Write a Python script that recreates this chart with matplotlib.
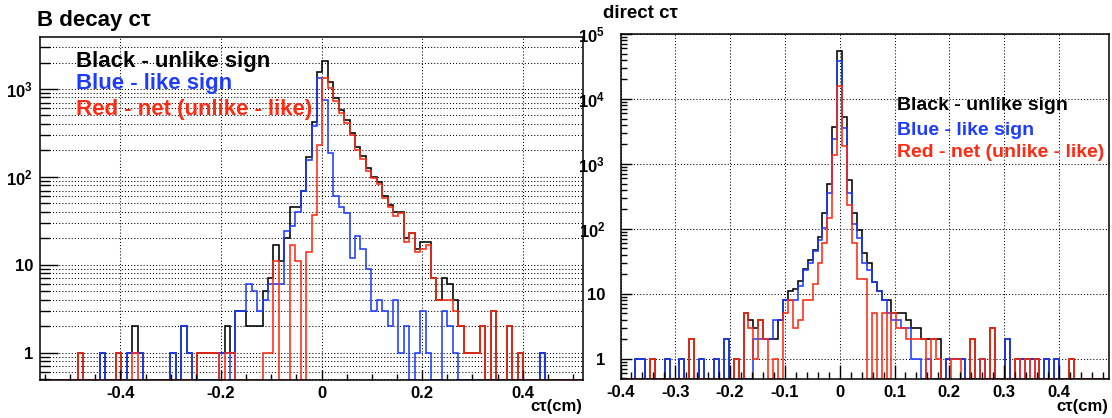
import numpy as np
import matplotlib
matplotlib.use("Agg")
import matplotlib.pyplot as plt
from matplotlib.ticker import FixedLocator, NullFormatter, MultipleLocator

plt.rcParams['font.family'] = ['Liberation Sans', 'DejaVu Sans']
plt.rcParams['font.weight'] = 'bold'
plt.rcParams['mathtext.fontset'] = 'custom'
plt.rcParams['mathtext.rm'] = 'Liberation Sans:bold'
plt.rcParams['mathtext.bf'] = 'Liberation Sans:bold'
plt.rcParams['mathtext.it'] = 'Liberation Sans:bold'

# ---------------- data: B decay c tau (100 bins, -0.56 .. 0.52) ----------------
left_range = (-0.56, 0.52)
left_black = [0, 0, 0, 0, 0, 0, 0, 1, 0, 0,
              0, 1, 0, 0, 1, 0, 1, 2, 1, 0,
              0, 0, 0, 0, 1, 0, 2, 1, 0, 1,
              1, 1, 1, 1, 2, 1, 3, 3, 2, 2,
              2, 5, 7, 17, 11, 20, 45, 46, 70, 170,
              420, 1550, 2100, 1210, 790, 580, 445, 315, 221, 173,
              125, 100, 88, 60, 48, 40, 40, 20, 23, 15,
              18, 18, 7, 4, 7, 6, 4, 2, 1, 1,
              1, 2, 0, 3, 0, 0, 2, 0, 1, 0,
              0, 0, 1, 0, 0, 0, 0, 0, 0, 0]
left_blue = [0, 0, 0, 0, 0, 0, 0, 0, 0, 0,
             0, 1, 0, 0, 0, 0, 1, 1, 1, 0,
             0, 0, 0, 0, 1, 0, 2, 1, 0, 0,
             0, 0, 0, 1, 1, 0, 3, 3, 6, 5,
             3, 4, 6, 6, 6, 24, 28, 40, 70, 155,
             380, 1320, 750, 186, 60, 45, 39, 12, 21, 15,
             9, 3, 4, 3, 2, 4, 1, 2, 0, 1,
             3, 1, 0, 0, 3, 2, 1, 0, 0, 0,
             0, 0, 0, 0, 0, 0, 0, 0, 0, 0,
             0, 0, 1, 0, 0, 0, 0, 0, 0, 0]
left_red = [0, 0, 0, 0, 0, 0, 0, 1, 0, 0,
            0, 0, 0, 0, 1, 0, 0, 1, 0, 0,
            0, 0, 0, 0, 0, 0, 0, 0, 0, 1,
            1, 1, 1, 0, 1, 1, 0, 0, 0, 0,
            0, 1, 1, 11, 0, 0, 17, 11, 0, 14,
            37, 230, 1350, 1024, 730, 535, 406, 303, 200, 158,
            116, 97, 84, 57, 46, 36, 39, 18, 23, 14,
            15, 17, 7, 4, 4, 4, 3, 2, 1, 1,
            1, 2, 0, 3, 0, 0, 2, 0, 1, 0,
            0, 0, 0, 0, 0, 0, 0, 0, 0, 0]

# ---------------- data: direct c tau (99 bins of 0.009 centred on 0) ----------------
right_first_edge = -0.4005
right_bin_width = 0.009
right_black = [0, 0, 0, 1, 1, 0, 1, 0, 0, 1,
               0, 0, 1, 0, 2, 0, 1, 0, 0, 1,
               0, 2, 0, 1, 0, 5, 4, 3, 4, 2,
               2, 2, 4, 8, 11, 12, 16, 24, 33, 48,
               74, 175, 493, 3750, 55000, 5350, 567, 175, 96, 43,
               30, 15, 11, 8, 8, 5, 5, 5, 4, 3,
               3, 2, 2, 2, 2, 0, 1, 1, 1, 1,
               0, 2, 0, 1, 0, 3, 0, 0, 2, 0,
               1, 1, 1, 1, 1, 0, 1, 0, 1, 0,
               0, 1, 0, 0, 0, 0, 0, 0, 0]
right_blue = [0, 0, 0, 1, 1, 0, 0, 0, 0, 1,
              0, 0, 1, 0, 0, 0, 1, 0, 0, 1,
              0, 2, 0, 0, 0, 0, 0, 2, 2, 2,
              2, 4, 4, 8, 8, 8, 13, 23, 30, 45,
              67, 102, 363, 2410, 38700, 3550, 363, 120, 72, 30,
              23, 15, 11, 8, 5, 4, 4, 3, 3, 1,
              1, 0, 1, 0, 0, 0, 1, 1, 1, 1,
              0, 0, 0, 1, 0, 0, 0, 0, 2, 0,
              0, 1, 0, 1, 0, 0, 1, 0, 1, 0,
              0, 0, 0, 0, 0, 0, 0, 0, 0]
right_red = [0, 0, 0, 0, 0, 0, 1, 0, 0, 0,
             0, 0, 0, 0, 2, 0, 0, 0, 0, 0,
             0, 0, 0, 1, 0, 5, 3, 1, 4, 2,
             0, 1, 0, 5, 8, 3, 4, 8, 8, 14,
             30, 60, 146, 1370, 15800, 1900, 234, 60, 17, 17,
             0, 5, 0, 5, 0, 5, 3, 3, 2, 2,
             2, 2, 0, 2, 1, 0, 0, 1, 1, 0,
             0, 2, 0, 1, 0, 3, 0, 0, 0, 0,
             1, 0, 1, 0, 1, 0, 0, 0, 0, 0,
             0, 1, 0, 0, 0, 0, 0, 0, 0]

titles = ["B decay c\u03c4", "direct c\u03c4"]
legend_lines = ["Black - unlike sign", "Blue - like sign", "Red - net (unlike - like)"]
xlabel = "c\u03c4(cm)"

C_BLACK = "#000000"
C_BLUE = "#1e3cff"
C_RED = "#ff2a12"

W, H = 1112, 418
fig = plt.figure(figsize=(W / 100, H / 100), dpi=100)
fig.patch.set_facecolor("white")


def fx(px):
    return px / W


def fy(py):
    return 1 - py / H


def draw_hists(ax, edges, series, ymin):
    for vals, col in series:
        v = np.asarray(vals, dtype=float)
        v = np.where(v > 0, v, ymin)
        ax.stairs(v, edges, color=col, lw=1.15, baseline=None)


def dec_label(v):
    e = int(round(np.log10(v)))
    if e == 0:
        return "1"
    if e == 1:
        return "10"
    return r"$\mathbf{10^{%d}}$" % e


grid_kw = dict(color="black", lw=0.75, linestyle=(0, (1, 2)))
TL = 12

# ---------------- left panel ----------------
axL = fig.add_axes([fx(40), fy(380), fx(583 - 40), (380 - 37) / H])
nL = len(left_black)
edgesL = np.linspace(left_range[0], left_range[1], nL + 1)
ymL = 0.49
draw_hists(axL, edgesL, [(left_black, C_BLACK), (left_blue, C_BLUE), (left_red, C_RED)], ymL)
axL.set_yscale("log")
axL.set_xlim(*left_range)
axL.set_ylim(ymL, 3900)
axL.xaxis.set_major_locator(FixedLocator([-0.4, -0.2, 0.0, 0.2, 0.4]))
axL.xaxis.set_minor_locator(MultipleLocator(0.05))
axL.set_xticklabels(["-0.4", "-0.2", "0", "0.2", "0.4"])
decL = [1, 10, 100, 1000]
axL.yaxis.set_major_locator(FixedLocator(decL))
axL.set_yticklabels([dec_label(d) for d in decL])
minL = [m * d for d in [0.1, 1, 10, 100, 1000] for m in range(2, 10) if ymL < m * d < 3900]
axL.yaxis.set_minor_locator(FixedLocator(minL))
axL.yaxis.set_minor_formatter(NullFormatter())
for g in decL + minL:
    axL.axhline(g, zorder=0, **grid_kw)
for g in [-0.4, -0.2, 0.0, 0.2, 0.4]:
    axL.axvline(g, zorder=0, **grid_kw)
axL.tick_params(axis="y", which="major", direction="in", length=13, width=1.0, pad=5, labelsize=TL)
axL.tick_params(axis="y", which="minor", direction="in", length=7, width=1.0)
axL.tick_params(axis="x", which="major", direction="in", length=7, width=1.0, pad=4, labelsize=TL)
axL.tick_params(axis="x", which="minor", direction="in", length=4, width=1.0)

# ---------------- right panel ----------------
axR = fig.add_axes([fx(620.5), fy(379), fx(1108.5 - 620.5), (379 - 34) / H])
nR = len(right_black)
edgesR = right_first_edge + right_bin_width * np.arange(nR + 1)
ymR = 0.49
draw_hists(axR, edgesR, [(right_black, C_BLACK), (right_blue, C_BLUE), (right_red, C_RED)], ymR)
axR.set_yscale("log")
axR.set_xlim(-0.4, 0.4905)
axR.set_ylim(ymR, 1.0e5)
majR = [-0.4, -0.3, -0.2, -0.1, 0.0, 0.1, 0.2, 0.3, 0.4]
axR.xaxis.set_major_locator(FixedLocator(majR))
axR.xaxis.set_minor_locator(MultipleLocator(0.02))
axR.set_xticklabels(["-0.4", "-0.3", "-0.2", "-0.1", "0", "0.1", "0.2", "0.3", "0.4"])
decR = [1, 10, 100, 1000, 1e4, 1e5]
axR.yaxis.set_major_locator(FixedLocator(decR))
axR.set_yticklabels([dec_label(d) for d in decR])
minR = [m * d for d in [0.1, 1, 10, 100, 1000, 1e4] for m in range(2, 10) if ymR < m * d < 1e5]
axR.yaxis.set_minor_locator(FixedLocator(minR))
axR.yaxis.set_minor_formatter(NullFormatter())
for g in decR:
    axR.axhline(g, zorder=0, **grid_kw)
for g in majR:
    axR.axvline(g, zorder=0, **grid_kw)
axR.tick_params(axis="y", which="major", direction="in", length=8, width=1.0, pad=11, labelsize=TL)
axR.tick_params(axis="y", which="minor", direction="in", length=4, width=1.0)
axR.tick_params(axis="x", which="major", direction="in", length=10, width=1.0, pad=4, labelsize=TL)
axR.tick_params(axis="x", which="minor", direction="in", length=5, width=1.0)

for ax in (axL, axR):
    for s in ax.spines.values():
        s.set_linewidth(1.1)
    ax.set_facecolor("white")
    for lab in ax.get_xticklabels() + ax.get_yticklabels():
        lab.set_fontweight("bold")

# ---------------- titles, labels, legends ----------------
fig.text(fx(37), fy(26), titles[0], fontsize=16, fontweight="bold", va="baseline", ha="left")
fig.text(fx(603), fy(18), titles[1], fontsize=13.5, fontweight="bold", va="baseline", ha="left")
fig.text(fx(582), fy(411), xlabel, fontsize=12, fontweight="bold", va="baseline", ha="right")
fig.text(fx(1108), fy(411), xlabel, fontsize=12, fontweight="bold", va="baseline", ha="right")

cols = [C_BLACK, C_BLUE, C_RED]
for txt, col, yb in zip(legend_lines, cols, [67, 89, 115]):
    fig.text(fx(76), fy(yb), txt, color=col, fontsize=16, fontweight="bold", va="baseline", ha="left")
for txt, col, yb in zip(legend_lines, cols, [110, 135, 157]):
    fig.text(fx(897), fy(yb), txt, color=col, fontsize=14, fontweight="bold", va="baseline", ha="left")

fig.savefig("out.png", dpi=100, facecolor="white")
